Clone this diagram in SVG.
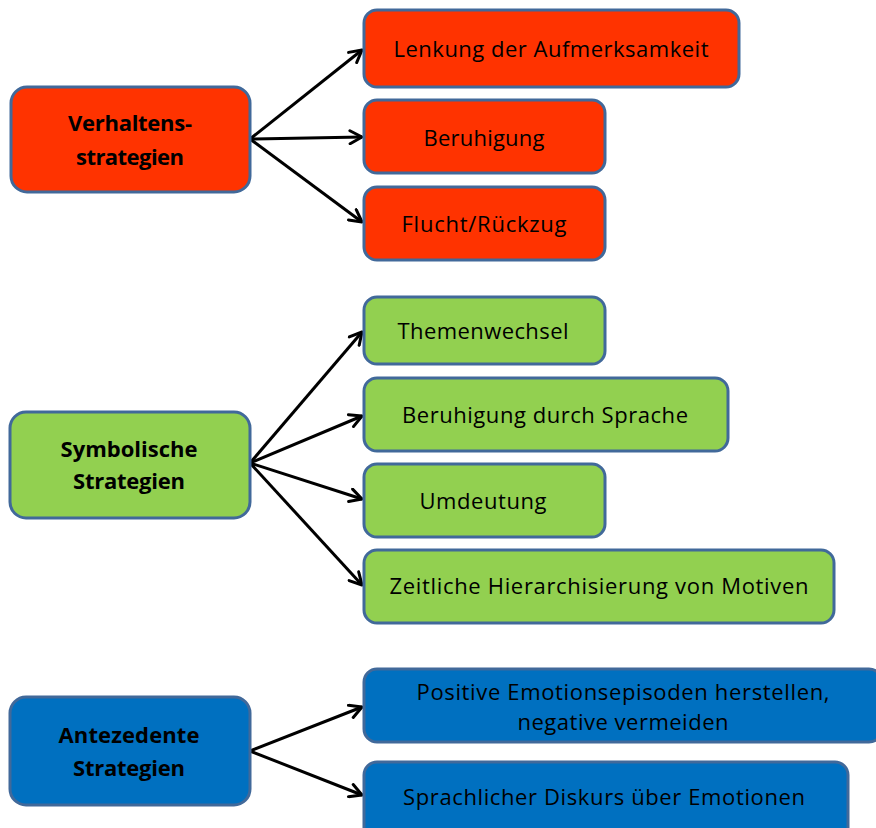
<svg xmlns="http://www.w3.org/2000/svg" width="876" height="828" viewBox="0 0 876 828">
<defs>
<marker id="arr" viewBox="0 0 16 16" markerWidth="16" markerHeight="16" refX="14" refY="8" orient="auto" markerUnits="userSpaceOnUse">
<path d="M2,1.5 L14,8 L2,14.5" fill="none" stroke="#000" stroke-width="3" stroke-linecap="round" stroke-linejoin="round"/>
</marker>
</defs>
<style>
.box{stroke:#41699A;stroke-width:3}
.red{fill:#FF3300}
.green{fill:#92D050}
.blue{fill:#0070C0}
.t{font-family:"Open Sans","Liberation Sans",Arial,sans-serif;font-size:22px;fill:#000;text-anchor:middle}
.b{font-weight:bold}
.c{stroke:#000;stroke-width:3;fill:none;marker-end:url(#arr)}
</style>
<rect width="876" height="828" fill="#fff"/>
<g id="connectors">
<line class="c" x1="250" y1="139" x2="362" y2="50"/>
<line class="c" x1="250" y1="139" x2="362" y2="137"/>
<line class="c" x1="250" y1="139" x2="362" y2="222"/>
<line class="c" x1="250" y1="463" x2="362" y2="332"/>
<line class="c" x1="250" y1="463" x2="362" y2="416"/>
<line class="c" x1="250" y1="463" x2="362" y2="499"/>
<line class="c" x1="250" y1="463" x2="362" y2="585"/>
<line class="c" x1="250" y1="751" x2="362" y2="707"/>
<line class="c" x1="250" y1="751" x2="362" y2="795"/>
</g>
<g id="verhaltens">
<rect class="box red" x="11" y="87" width="239" height="105" rx="16"/>
<text class="t b" x="130" y="131" textLength="124">Verhaltens-</text>
<text class="t b" x="130" y="165" textLength="108">strategien</text>
</g>
<g id="lenkung">
<rect class="box red" x="364" y="10" width="375" height="77" rx="13"/>
<text class="t" x="551" y="57" textLength="315">Lenkung der Aufmerksamkeit</text>
</g>
<g id="beruhigung">
<rect class="box red" x="364" y="100" width="241" height="73" rx="13"/>
<text class="t" x="484" y="146" textLength="121">Beruhigung</text>
</g>
<g id="flucht">
<rect class="box red" x="364" y="187" width="241" height="73" rx="13"/>
<text class="t" x="484" y="232" textLength="165">Flucht/Rückzug</text>
</g>
<g id="symbolische">
<rect class="box green" x="10" y="412" width="240" height="106" rx="16"/>
<text class="t b" x="129" y="457" textLength="137">Symbolische</text>
<text class="t b" x="129" y="489" textLength="112">Strategien</text>
</g>
<g id="themenwechsel">
<rect class="box green" x="364" y="297" width="241" height="67" rx="13"/>
<text class="t" x="483" y="339" textLength="171">Themenwechsel</text>
</g>
<g id="beruhigung-sprache">
<rect class="box green" x="364" y="378" width="364" height="73" rx="13"/>
<text class="t" x="545" y="423" textLength="286">Beruhigung durch Sprache</text>
</g>
<g id="umdeutung">
<rect class="box green" x="364" y="464" width="241" height="73" rx="13"/>
<text class="t" x="483" y="509" textLength="127">Umdeutung</text>
</g>
<g id="zeitliche">
<rect class="box green" x="364" y="550" width="470" height="73" rx="13"/>
<text class="t" x="599" y="594" textLength="419">Zeitliche Hierarchisierung von Motiven</text>
</g>
<g id="antezedente">
<rect class="box blue" x="10" y="697" width="240" height="108" rx="16"/>
<text class="t b" x="129" y="743" textLength="141">Antezedente</text>
<text class="t b" x="129" y="776" textLength="112">Strategien</text>
</g>
<g id="positive">
<rect class="box blue" x="364" y="669" width="518" height="73" rx="13"/>
<text class="t" x="623" y="700" textLength="413">Positive Emotionsepisoden herstellen,</text>
<text class="t" x="623" y="730" textLength="211">negative vermeiden</text>
</g>
<g id="sprachlicher">
<rect class="box blue" x="364" y="762" width="484" height="80" rx="13"/>
<text class="t" x="604" y="805" textLength="402">Sprachlicher Diskurs über Emotionen</text>
</g>
</svg>
